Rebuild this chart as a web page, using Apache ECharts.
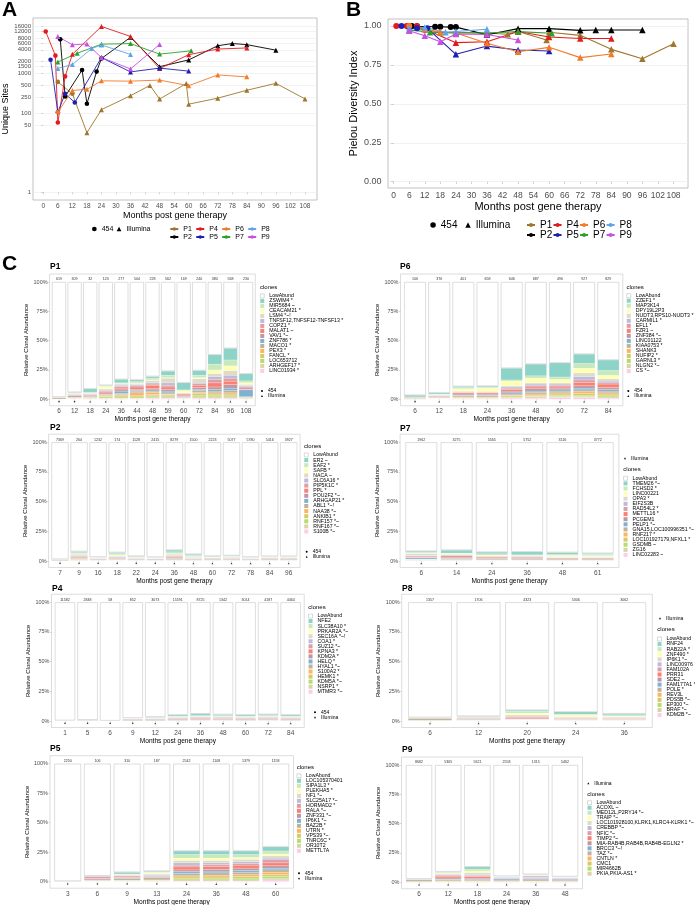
<!DOCTYPE html>
<html><head><meta charset="utf-8">
<script src="https://cdn.jsdelivr.net/npm/echarts@6/dist/echarts.min.js"></script>
<style>html,body{margin:0;padding:0;background:#fff}#c{width:695px;height:905px}</style>
</head><body><div id="c"></div>
<script>
// ---------------- DATA ----------------
const p1Months=[6,12,18,24,36,44,48,59,60,72,84,96,108];
const p1Sites=[619,309,32,123,277,504,228,562,169,240,380,568,230];
const p1Pielou=[0.99,0.975,0.96,0.96,0.955,0.947,0.965,0.91,0.96,0.94,0.85,0.79,0.886];
const p1Platform=['454','454','Illumina','Illumina','Illumina','Illumina','Illumina','Illumina','Illumina','Illumina','Illumina','Illumina','Illumina'];
const p2Months=[7,9,16,18,22,24,36,48,60,72,78,84,96];
const p2Sites=[7369,264,1232,174,1128,2415,8279,1500,2223,5077,5780,5416,3927];
const p2Pielou=[1.0,0.998,0.995,0.995,0.993,0.993,0.944,0.983,0.983,0.972,0.974,0.974,0.974];
const p2Platform=['454','454','454','454','454','454','Illumina','Illumina','Illumina','Illumina','Illumina','Illumina','Illumina'];
const p4Months=[1,5,6,9,12,24,36,48,60,72,84];
const p4Sites=[11582,2848,58,852,3073,15591,8725,1342,3014,4187,4464];
const p4Pielou=[1.0,1.0,1.0,1.0,0.98,0.893,0.899,0.965,0.929,0.92,0.92];
const p4Platform=['454','454','454','454','Illumina','Illumina','Illumina','Illumina','Illumina','Illumina','Illumina'];
const p5Months=[3,6,9,13,24,36,48,60];
const p5Sites=[2250,106,310,187,2542,1108,1379,1158];
const p5Pielou=[1.0,0.99,0.985,0.985,0.818,0.871,0.846,0.839];
const p5Platform=['454','454','454','454','Illumina','Illumina','Illumina','Illumina'];
const p6Months=[6,12,18,24,36,48,60,72,84];
const p6Sites=[106,376,401,658,646,687,496,927,829];
const p6Pielou=[1.0,0.98,0.96,0.955,0.889,0.835,0.863,0.797,0.82];
const p6Platform=['454','Illumina','Illumina','Illumina','Illumina','Illumina','Illumina','Illumina','Illumina'];
const p7Months=[6,14,24,36,48,61];
const p7Sites=[1962,3275,5565,5752,3116,3772];
const p7Pielou=[0.975,0.96,0.955,0.955,0.964,0.953];
const p7Platform=['Illumina','Illumina','Illumina','Illumina','Illumina','Illumina'];
const p8Months=[6,12,20,24,36];
const p8Sites=[1357,1706,4323,5306,3062];
const p8Pielou=[0.985,0.99,0.96,0.965,0.979];
const p8Platform=['Illumina','Illumina','Illumina','Illumina','Illumina'];
const p9Months=[6,12,18,24,36,48];
const p9Sites=[8682,5365,5621,2558,1315,5462];
const p9Pielou=[0.97,0.938,0.899,0.949,0.945,0.91];
const p9Platform=['Illumina','Illumina','Illumina','Illumina','Illumina','Illumina'];

// clones (top of stack first) and relative abundance (%) per clone per time point
const p1Clones=['ZSWIM4 *','MIR5684 ~','CEACAM21 *','LSM4 *~!','TNFSF12,TNFSF12-TNFSF13 *','COPZ1 *','MALAT1 ~','VAV1 *~','ZNF786 *','MACO1 *','PEX3 *','FANCL *','LOC653712','ARHGEF17 *','LINC01934 *'];
const p1Abund=[
 [0,0.5,3,0.5,3,1.5,1.5,3.5,6,4,8,10,6],
 [0,0.5,0.5,0.5,0.5,1,1.5,2,0.5,2,5,5,1.5],
 [0,0.3,0.3,2,0.5,0.5,0.5,0.5,2,1,3,4,1.5],
 [0,0.5,0.5,1,1,1,2,4,0.5,3,2.5,4,1],
 [0,0.3,0.3,0.5,1,1,1,2,0.5,1,2.5,2.5,1],
 [0,0.5,0.5,1,1.5,1,1,1.5,1,1.5,3,2.5,1],
 [0,0.5,0.5,1,1.5,2,3,2,1,2,3.5,3,1],
 [0.5,1,1,1,1,1,1,1.5,0.5,1.5,2,3,0.5],
 [0.3,0.3,0.3,0.5,2,1,1,1.5,0.5,1,1.5,2,6],
 [1,0.5,0.5,0.5,1,1,1,1,0.3,1.5,1.5,2,0.5],
 [0,0.3,0.3,1,1,2.5,2,0.5,0.2,1,1,1,0.3],
 [0,0.3,0.3,0.5,1,1,1,1,0.2,1.5,1,1.5,0.5],
 [0,0.2,0.3,1,1,1,1,1,0.3,1.5,1.5,1,0.3],
 [0,0.2,0.3,0.5,0.5,0.5,1,1,0.3,1,1,1,0.3],
 [0.2,0.1,0.3,0.5,0.5,0.5,1,1,0.2,1,1,1,0.3]];
const p6Clones=['ZZEF1 *','MAP3K14','DPY19L2P3','NUDT3,RPS10-NUDT3 *','CARMIL1 *','EFL1 *','FZR1 ~','ZNF384 *~','LINC01122','KIAA0753 *','SHANK3','NUFIP2 *','GARNL3 *','NLGN2 *~','CS *~'];
const p6Abund=[
 [1.5,1,1,1,10,10,12,8,9],
 [0,0.5,1,0.5,1,2,2,4,4],
 [0,0.3,2,3,4,4,3,4,3],
 [0,0.3,0.5,0.5,1,1,1,3,2],
 [0,0.3,0.5,0.3,1,1.5,1,3,1.5],
 [0,0.3,0.5,0.5,1,1,1.5,2,1],
 [0.5,0.5,1,1,1.5,1.5,1,3,3],
 [0.5,0.5,1,1,1.5,2,1.5,2,1.5],
 [0,0.3,0.5,0.5,1,1,1,1.5,1.5],
 [0.5,0.5,1,1,1,1.5,1.5,1.5,1.5],
 [0,0.2,0.5,0.5,0.5,1,1,1.5,1],
 [0,0.2,0.5,0.5,1,1,1,1.5,1.5],
 [0,0.2,0.3,0.3,0.5,0.5,1,1,1],
 [0.5,0.2,0.3,0.3,0.5,1,1,1,1],
 [0,0.2,0.4,0.3,1,1,1.5,1.5,1]];
const p2Clones=['ER2 ~','EAF2 *','SAFB *','NACA ~','SLC6A16 *','PIP5K1C *','PPL *','POU2F2 *~','ARHGAP21 *','ABL1 *~!','NAA38 *~','ANKIB1 *','RNF157 *~','RNF167 *~','S100B *~'];
const p2Abund=[
 [0,1,0.3,1,0.5,0.3,1.5,1,0.5,0.5,0.3,0.3,0.3],
 [0,0.8,0.2,1,0.5,0.2,1.5,1,0.3,0.5,0.3,0.3,0.3],
 [0,0.5,0.1,1,0.2,0.1,0.5,0.5,0.2,0.3,0.2,0.2,0.2],
 [0.2,1,0.3,0.5,0.3,0.3,1,0.5,0.3,0.5,0.3,0.4,0.4],
 [0,0.5,0.2,0.5,0.2,0.2,0.5,0.3,0.2,0.3,0.2,0.2,0.2],
 [0,0.5,0.2,0.5,0.3,0.2,0.5,0.3,0.3,0.3,0.2,0.3,0.3],
 [0,0.6,0.2,0.3,0.2,0.2,0.6,0.3,0.2,0.2,0.1,0.2,0.2],
 [0.3,0.6,0.5,0.5,0.5,0.5,0.8,0.5,0.5,0.5,0.4,0.5,0.5],
 [0,0.3,0.1,0.3,0.1,0.1,0.3,0.2,0.1,0.1,0.1,0.1,0.1],
 [0.6,0.6,0.6,0.5,0.6,0.6,0.8,0.5,0.8,0.7,0.6,0.8,0.8],
 [0,0.5,0.1,0.3,0.1,0.1,0.3,0.1,0.1,0.1,0.1,0.1,0.1],
 [0,0.3,0.1,0.2,0.1,0.1,0.2,0.1,0.1,0.1,0.1,0.1,0.1],
 [0,0.3,0.1,0.2,0.1,0.1,0.2,0.1,0.1,0.1,0.1,0.1,0.1],
 [0.3,0.3,0.3,0.2,0.3,0.2,0.3,0.2,0.3,0.3,0.3,0.3,0.3],
 [0.1,0.2,0.1,0.2,0.1,0.1,0.2,0.1,0.1,0.1,0.1,0.1,0.1]];
const p7Clones=['TMEM26 *~','FCHSD2 *','LINC00221','OPA3 *','EIF2S3B','RAD54L2 *','METTL16 *','PCGEM1','PELP1 *~','GNA15,LOC100996351 *~','RNF217 *','LOC101927179,NFXL1 *','GSDMB ~','ZG16','LINC02283 ~'];
const p7Abund=[
 [1,2.5,1.5,2.5,1.5,1],
 [0.5,0.5,1,0.5,1,1],
 [0.5,0.5,0.5,0.3,1,0.8],
 [1.5,0.5,0.5,0.5,0.5,0.5],
 [0.3,0.5,0.3,0.3,0.3,0.3],
 [0.8,0.5,0.5,0.5,0.3,0.3],
 [0.5,1,0.8,0.7,0.3,0.3],
 [0.5,0.8,0.6,0.6,0.5,0.5],
 [1,0.3,0.2,0.2,0.2,0.2],
 [0.5,1,0.8,0.8,0.8,0.8],
 [0.2,0.2,0.1,0.1,0.1,0.1],
 [0.2,0.2,0.1,0.1,0.1,0.1],
 [0.2,0.2,0.1,0.1,0.1,0.1],
 [0.3,0.3,0.3,0.3,0.3,0.3],
 [0.2,0.2,0.2,0.2,0.2,0.2]];
const p4Clones=['NFE2','SLC38A10 *','PRKAR2A *~','SEC16A *~!','COA1 *','SUZ12 *~','KPNA3 *','KDM2A *','HELQ *','HYAL1 *~','S100A2 *','HEMK1 *','KDM5A *~','NSRP1 *','MTMR3 *~'];
const p4Abund=[
 [0,0,0,0.2,0.5,1,1.5,1,1,1,1],
 [0,0,0,0.1,0.3,0.5,0.5,0.5,0.5,0.5,0.5],
 [0,0,0,0.1,0.1,0.2,0.2,0.2,0.2,0.3,0.2],
 [0,0.1,0,0.2,0.3,0.5,0.5,0.5,0.5,0.5,0.5],
 [0,0,0,0.1,0.2,0.3,0.3,0.3,0.3,0.3,0.3],
 [0,0,0,0.2,0.3,0.5,0.6,0.6,0.5,0.6,0.5],
 [0,0,0,0.1,0.2,0.3,0.5,0.4,0.3,0.4,0.3],
 [0.2,0.4,0.1,0.6,0.6,0.6,0.7,0.7,0.6,0.7,0.6],
 [0,0,0,0.1,0.1,0.1,0.1,0.1,0.1,0.1,0.1],
 [0.2,0.4,0.1,0.6,0.6,0.6,0.6,0.6,0.6,0.6,0.6],
 [0,0,0,0,0.1,0.1,0.1,0.1,0.1,0.1,0.1],
 [0,0,0,0,0.05,0.1,0.1,0.1,0.1,0.1,0.1],
 [0,0,0,0,0.05,0.1,0.1,0.1,0.1,0.1,0.1],
 [0.1,0.1,0.1,0.3,0.1,0.1,0.2,0.2,0.1,0.2,0.1],
 [0,0,0,0,0,0.1,0.1,0.1,0.1,0.1,0.1]];
const p8Clones=['RNF24','RAB22A *','ZNF490 *','IP6K1 *~','LINC00976','FAM102A','PRR31','SDE2 ~','FAM177A1 *','POLE *','REV3L','PDS5B *~','EP300 *~','BRAF *~','KDM2B *~'];
const p8Abund=[
 [0,0.3,1,2,1],
 [0,0.3,1.5,0.5,1],
 [0,0.2,1.5,1.5,0.5],
 [0.3,1,1,0.5,0.5],
 [0,0.2,0.5,0.3,0.3],
 [0,0.2,0.5,0.3,0.3],
 [0,0.2,1,0.5,0.5],
 [0.5,0.3,0.5,0.5,0.5],
 [0,0.1,0.2,0.2,0.2],
 [1.5,0.5,0.5,0.5,0.5],
 [0,0.1,0.2,0.1,0.1],
 [0,0.1,0.2,0.1,0.1],
 [0,0.1,0.1,0.1,0.1],
 [0.7,0.4,0.3,0.4,0.4],
 [0,0.1,0.1,0.1,0.1]];
const p5Clones=['LOC105370401','SIPA1L3 *','PLEKHA5 *','NF1 *~','SLC25A17 *~','HORMAD2 *','RALA *~','ZNF331 *~','IP6K1 *~','BAZ2B *','UTRN *','VPS39 *~','TNRC6C *','OR10T2','METTL7A'];
const p5Abund=[
 [0,0,1.5,0.7,3,3,3,3.5],
 [0,0,0.5,0.5,3,3,2.5,2.5],
 [0,0,0.3,1,2,2,1.5,1.5],
 [0,0,0.3,0.8,2,2,2,2],
 [0,0.5,0.2,0.5,2,1.5,1.5,1.5],
 [0,1.5,0.5,0.5,1.5,1.5,1.5,2.5],
 [0,0.5,1,0.5,2.5,2.5,2.5,2.5],
 [0,1,0.5,0.5,1.5,1.5,2,2],
 [0,0.2,0.5,0.5,1.5,1.5,1.5,1.5],
 [0.5,0.5,1.5,2,2,2,2,2],
 [0,0.2,0.2,0.3,1,1.5,1.5,2],
 [0,0.2,0.2,0.3,1.5,1.5,1.5,1.5],
 [0,0.2,0.3,0.3,1,1,1.5,1.5],
 [0,0.2,0.3,0.3,1,1,1,1.5],
 [0,0,0.2,0.3,0.5,0.5,0.5,1.5]];
const p9Clones=['ACOXL ~','MED12L,P2RY14 *~','TRAIP *~','LOC101928100,KLRK1,KLRC4-KLRK1 *~','CREBBP *~','NFIC *~','TIMP2 *~','MIA-RAB4B,RAB4B,RAB4B-EGLN2 *','BRCC3 *~!','TAZ *~','CNTLN *','CMC1','MIR4662B','PKIA,PKIA-AS1 *'];
const p9Abund=[
 [0,0.5,2,0.2,0.3,0.2],
 [0,0.5,1.5,0.2,0.3,0.2],
 [0,0.5,1.5,0.2,0.3,0.2],
 [0.3,1,1.5,0.3,0.5,0.3],
 [0,0.5,1,0.5,1,0.3],
 [0,0.8,0.8,0.3,0.5,0.3],
 [0,1.5,1.5,0.3,0.5,0.3],
 [0.5,1,1,0.5,0.5,0.5],
 [0,0.5,0.5,1,0.8,0.8],
 [1.5,1,0.8,1,1,1],
 [0,0.3,0.3,0.2,0.3,0.2],
 [0,0.3,0.3,0.2,0.3,0.2],
 [0,0.3,0.2,0.1,0.2,0.1],
 [0.7,0.3,0.3,0.3,0.3,0.3]];

const siteTicks=[1,50,100,250,500,1000,1500,2000,4000,6000,8000,12000,16000];
const pielouTicks=[0,0.25,0.5,0.75,1];
const abundTicks=[0,25,50,75,100];

// ---------------- STYLE / LAYOUT ----------------
const pal=['#8DD3C7','#C6E9BD','#FFFFB3','#DEDCC6','#BEBADA','#DC9DA6','#FB8072','#BD98A2','#80B1D3','#BEB29A','#FDB462','#D8C965','#B3DE69','#D7D5A7','#FCCDE5'];
const patColor={P1:'#A0762E',P2:'#000000',P4:'#E41A1C',P5:'#1F1FB4',P6:'#F27B2A',P7:'#2CA02C',P8:'#5DA5E8',P9:'#C84FE6'};
const gray30='#4d4d4d';
const pats=[
 {id:'P1',m:p1Months,s:p1Sites,pi:p1Pielou,pl:p1Platform,cl:p1Clones,ab:p1Abund},
 {id:'P2',m:p2Months,s:p2Sites,pi:p2Pielou,pl:p2Platform,cl:p2Clones,ab:p2Abund},
 {id:'P4',m:p4Months,s:p4Sites,pi:p4Pielou,pl:p4Platform,cl:p4Clones,ab:p4Abund},
 {id:'P5',m:p5Months,s:p5Sites,pi:p5Pielou,pl:p5Platform,cl:p5Clones,ab:p5Abund},
 {id:'P6',m:p6Months,s:p6Sites,pi:p6Pielou,pl:p6Platform,cl:p6Clones,ab:p6Abund},
 {id:'P7',m:p7Months,s:p7Sites,pi:p7Pielou,pl:p7Platform,cl:p7Clones,ab:p7Abund},
 {id:'P8',m:p8Months,s:p8Sites,pi:p8Pielou,pl:p8Platform,cl:p8Clones,ab:p8Abund},
 {id:'P9',m:p9Months,s:p9Sites,pi:p9Pielou,pl:p9Platform,cl:p9Clones,ab:p9Abund}];
const cLayout={
 P1:{fl:49.6,fr:255.3,first:59,last:246,y0:399.3,y100:282,tx:50,ty:266.5,lx:260,ly:295.9,pitch:4.9,cy:287.4,px:261,py:391},
 P6:{fl:400.5,fr:622.8,first:415,last:608.3,y0:399.3,y100:282,tx:400,ty:266.7,lx:626.5,ly:295.7,pitch:5.02,cy:287.2,px:627.3,py:391},
 P2:{fl:48.6,fr:300.1,first:60,last:288.7,y0:561,y100:442.3,tx:50,ty:428,lx:304,ly:455,pitch:5.1,cy:447,px:305.7,py:551.7},
 P7:{fl:400.1,fr:618.9,first:421.3,last:597.7,y0:561,y100:442.3,tx:400,ty:428.3,lx:623.3,ly:478.3,pitch:5.11,cy:469.3,px:624,py:458.3},
 P4:{fl:51.5,fr:304.2,first:65,last:290.7,y0:721,y100:602.3,tx:52,ty:588.3,lx:308.3,ly:616,pitch:5.05,cy:607.7,px:314,py:712.3},
 P8:{fl:401.7,fr:652.3,first:430,last:624.3,y0:721,y100:602.3,tx:402,ty:588.3,lx:657.3,ly:639,pitch:5.07,cy:630,px:659,py:618.3},
 P5:{fl:50,fr:293.5,first:67.7,last:275.7,y0:881.7,y100:763.7,tx:50,ty:748.3,lx:296.7,ly:775.7,pitch:4.73,cy:767.3,px:298,py:873.3},
 P9:{fl:401.5,fr:582.5,first:419,last:565,y0:882.3,y100:765,tx:402,ty:750,lx:587.3,ly:802.7,pitch:5.07,cy:794.3,px:587.3,py:783.3}};
const Y_MIN=-5.5, Y_MAX=106.8;

const grids=[],xAxes=[],yAxes=[],series=[],titles=[],legends=[];
const monthTicks=[];for(let t=0;t<=108;t+=6)monthTicks.push(t);
const tickStyle={color:'#b3b3b3',width:0.6};

// ---------- Panel A ----------
grids.push({left:33,top:18,width:284,height:182,show:true,borderColor:'#b3b3b3',borderWidth:0.8,backgroundColor:'#fff',containLabel:false,outerBoundsMode:'none'});
xAxes.push({type:'value',gridIndex:0,min:-4.25,max:112.96,axisLine:{show:false},
 axisTick:{show:true,customValues:monthTicks,length:2,lineStyle:tickStyle},
 axisLabel:{customValues:monthTicks,fontSize:6.5,color:gray30,margin:2.7,showMaxLabel:true,showMinLabel:true,fontFamily:'Liberation Sans'},
 splitLine:{show:false},name:'Months post gene therapy',nameLocation:'middle',nameGap:9,
 nameTextStyle:{fontSize:9,color:'#000',fontFamily:'Liberation Sans'}});
const sitePos=siteTicks.map(v=>Math.log10(v));
const siteFmt=v=>String(Math.round(Math.pow(10,v)));
// main y axis (all ticks, labels except the topmost one)
yAxes.push({type:'value',gridIndex:0,position:'left',min:-0.195,max:4.407,axisLine:{show:false},
 axisTick:{show:true,customValues:sitePos,length:2,lineStyle:tickStyle},
 axisLabel:{customValues:sitePos.slice(0,-1),formatter:siteFmt,fontSize:6,color:gray30,margin:2,hideOverlap:false,showMaxLabel:true,showMinLabel:true,fontFamily:'Liberation Sans'},
 splitLine:{show:true,lineStyle:{color:'#ebebeb',width:0.6}},
 name:'Unique Sites',nameLocation:'middle',nameGap:22,nameTextStyle:{fontSize:9,color:'#000',fontFamily:'Liberation Sans'}});
// companion axis carrying only the topmost label (avoids automatic neighbour hiding)
yAxes.push({type:'value',gridIndex:0,position:'left',offset:0,min:-0.195,max:4.407,axisLine:{show:false},
 axisTick:{show:false},splitLine:{show:false},
 axisLabel:{customValues:sitePos.slice(-1),formatter:siteFmt,fontSize:6,color:gray30,margin:2,showMaxLabel:true,showMinLabel:true,fontFamily:'Liberation Sans'}});

// ---------- Panel B ----------
grids.push({left:388,top:19,width:300,height:169,show:true,borderColor:'#b3b3b3',borderWidth:0.8,backgroundColor:'#fff',containLabel:false,outerBoundsMode:'none'});
xAxes.push({type:'value',gridIndex:1,min:-2.2,max:113.6,axisLine:{show:false},
 axisTick:{show:true,customValues:monthTicks,length:2.5,lineStyle:tickStyle},
 axisLabel:{customValues:monthTicks,fontSize:8.5,color:gray30,margin:3.5,showMaxLabel:true,showMinLabel:true,fontFamily:'Liberation Sans'},
 splitLine:{show:false},name:'Months post gene therapy',nameLocation:'middle',nameGap:13,
 nameTextStyle:{fontSize:11,color:'#000',fontFamily:'Liberation Sans'}});
yAxes.push({type:'value',gridIndex:1,min:-0.0405,max:1.045,axisLine:{show:false},
 axisTick:{show:true,customValues:pielouTicks,length:2.5,lineStyle:tickStyle},
 axisLabel:{customValues:pielouTicks,formatter:v=>v.toFixed(2),fontSize:9,color:gray30,margin:6.5,showMaxLabel:true,showMinLabel:true,fontFamily:'Liberation Sans'},
 splitLine:{show:true,lineStyle:{color:'#ebebeb',width:0.7}},
 name:'Pielou Diversity Index',nameLocation:'middle',nameGap:29,nameTextStyle:{fontSize:11,color:'#000',fontFamily:'Liberation Sans'}});
const yIdxA=0, yIdxB=2;

// lines + points for A and B
[[0,yIdxA],[1,yIdxB]].forEach(([ax,yax])=>{
 const d454=[],dIll=[];
 pats.forEach(p=>{
  const col=patColor[p.id];
  const vals=p.m.map((t,i)=>[t, ax===0?Math.log10(p.s[i]):p.pi[i]]);
  series.push({type:'line',name:p.id,xAxisIndex:ax,yAxisIndex:yax,data:vals,showSymbol:false,symbol:'circle',symbolSize:ax===0?4:5,
   lineStyle:{color:col,width:ax===0?0.9:1.1},itemStyle:{color:col},silent:true,z:2});
  vals.forEach((v,i)=>{(p.pl[i]==='454'?d454:dIll).push({value:v,itemStyle:{color:col}});});
 });
 series.push({type:'scatter',name:'454',xAxisIndex:ax,yAxisIndex:yax,data:d454,symbol:'circle',symbolSize:ax===0?4.6:6,itemStyle:{color:'#000',opacity:1},silent:true,z:3});
 series.push({type:'scatter',name:'Illumina',xAxisIndex:ax,yAxisIndex:yax,data:dIll,symbol:'triangle',symbolSize:ax===0?5:6.5,itemStyle:{color:'#000',opacity:1},silent:true,z:3});
});

// legends A/B
const shapeData=[{name:'454',icon:'circle',itemStyle:{color:'#000'}},{name:'Illumina',icon:'triangle',itemStyle:{color:'#000'}}];
legends.push({left:92,top:225.5,orient:'horizontal',padding:0,itemGap:3.3,itemWidth:4.7,itemHeight:4.7,selectedMode:false,textStyle:{fontSize:7,color:'#000',fontFamily:'Liberation Sans'},data:shapeData});
legends.push({left:169.3,top:225.5,orient:'horizontal',padding:0,itemGap:3.4,itemWidth:8,itemHeight:4.5,selectedMode:false,textStyle:{fontSize:7,color:'#000',fontFamily:'Liberation Sans'},data:['P1','P4','P6','P8']});
legends.push({left:169.3,top:233.5,orient:'horizontal',padding:0,itemGap:3.4,itemWidth:8,itemHeight:4.5,selectedMode:false,textStyle:{fontSize:7,color:'#000',fontFamily:'Liberation Sans'},data:['P2','P5','P7','P9']});
legends.push({left:430.3,top:220,orient:'horizontal',padding:0,itemGap:7.8,itemWidth:5.5,itemHeight:5.5,selectedMode:false,textStyle:{fontSize:10,color:'#000',fontFamily:'Liberation Sans'},data:shapeData});
legends.push({left:526,top:220,orient:'horizontal',padding:0,itemGap:0.3,itemWidth:8,itemHeight:5,selectedMode:false,textStyle:{fontSize:10,color:'#000',fontFamily:'Liberation Sans'},data:['P1','P4','P6','P8']});
legends.push({left:526,top:230,orient:'horizontal',padding:0,itemGap:0.3,itemWidth:8,itemHeight:5,selectedMode:false,textStyle:{fontSize:10,color:'#000',fontFamily:'Liberation Sans'},data:['P2','P5','P7','P9']});

// panel letters
[['A',2,0],['B',346,0],['C',2,254]].forEach(([t,l,tp])=>titles.push({text:t,left:l,top:tp,padding:0,textStyle:{fontSize:21,fontWeight:'bold',color:'#000',fontFamily:'Liberation Sans'}}));

// ---------- Panel C ----------
pats.forEach(p=>{
 const L=cLayout[p.id];
 const n=p.m.length;
 const s=(L.last-L.first)/(n-1);
 const k=(L.y0-L.y100)/100;
 const top=L.y100-(Y_MAX-100)*k;
 const height=(Y_MAX-Y_MIN)*k;
 grids.push({left:L.fl,top:top,width:L.fr-L.fl,height:height,show:true,borderColor:'#cfcfcf',borderWidth:0.7,backgroundColor:'rgba(0,0,0,0)',containLabel:false,outerBoundsMode:'none'});
 const plotLeft=L.first-s/2;
 grids.push({left:plotLeft,top:top,width:n*s,height:height,show:false,containLabel:false,outerBoundsMode:'none'});
 const gi=grids.length-1;
 const cats=p.m.map(String);
 xAxes.push({type:'category',gridIndex:gi,data:cats,boundaryGap:true,axisLine:{show:false},
  axisTick:{show:true,alignWithLabel:true,length:1.5,lineStyle:{color:'#b3b3b3',width:0.5}},
  axisLabel:{interval:0,fontSize:6.5,color:gray30,margin:2.2,fontFamily:'Liberation Sans'},
  name:'Months post gene therapy',nameLocation:'middle',nameGap:8.7,nameTextStyle:{fontSize:6.6,color:'#000',fontFamily:'Liberation Sans'}});
 yAxes.push({type:'value',gridIndex:gi,min:Y_MIN,max:Y_MAX,offset:plotLeft-L.fl,axisLine:{show:false},
  axisTick:{show:true,customValues:abundTicks,length:1.5,lineStyle:{color:'#b3b3b3',width:0.5}},
  axisLabel:{customValues:abundTicks,formatter:v=>v+'%',fontSize:5.5,color:gray30,margin:2,showMaxLabel:true,showMinLabel:true,fontFamily:'Liberation Sans'},
  splitLine:{show:false},
  name:'Relative Clonal Abundance',nameLocation:'middle',nameGap:15.5,nameTextStyle:{fontSize:6,color:'#000',fontFamily:'Liberation Sans'}});
 const xi=xAxes.length-1, yi=yAxes.length-1;
 for(let c=p.cl.length-1;c>=0;c--){
  series.push({type:'bar',name:p.cl[c],xAxisIndex:xi,yAxisIndex:yi,stack:'st'+p.id,data:p.ab[c],barCategoryGap:'10%',
   itemStyle:{color:pal[c],borderColor:'rgba(255,255,255,0.6)',borderWidth:0.2},silent:true});
 }
 const low=cats.map((_,i)=>+(100-p.ab.reduce((a,r)=>a+r[i],0)).toFixed(2));
 series.push({type:'bar',name:'LowAbund',xAxisIndex:xi,yAxisIndex:yi,stack:'st'+p.id,data:low,barCategoryGap:'10%',
  itemStyle:{color:'#ffffff',borderColor:'#c8c8c8',borderWidth:0.6},silent:true,
  label:{show:true,position:'top',distance:0.6,fontSize:3.6,color:'#333',fontFamily:'Liberation Sans',formatter:q=>String(p.s[q.dataIndex])}});
 const d454=[],dIll=[];
 p.pl.forEach((pl,i)=>{(pl==='454'?d454:dIll).push([cats[i],-2]);});
 if(d454.length)series.push({type:'scatter',name:'454',xAxisIndex:xi,yAxisIndex:yi,data:d454,symbol:'circle',symbolSize:1.6,itemStyle:{color:'#000'},silent:true,z:4});
 series.push({type:'scatter',name:'Illumina',xAxisIndex:xi,yAxisIndex:yi,data:dIll,symbol:'triangle',symbolSize:1.9,itemStyle:{color:'#000'},silent:true,z:4});
 // titles
 titles.push({text:p.id,left:L.tx,top:L.ty-4.5,padding:0,textStyle:{fontSize:8.5,fontWeight:'bold',color:'#000',fontFamily:'Liberation Sans'}});
 titles.push({text:'clones',left:L.lx,top:L.cy-3.3,padding:0,textStyle:{fontSize:6,fontWeight:'normal',color:'#000',fontFamily:'Liberation Sans'}});
 // clone legend
 const ld=[{name:'LowAbund',icon:'rect',itemStyle:{color:'#fff',borderColor:'#b5b5b5',borderWidth:0.5}}]
  .concat(p.cl.map((c,i)=>({name:c,icon:'rect',itemStyle:{color:pal[i],borderWidth:0}})));
 legends.push({orient:'vertical',left:L.lx,top:L.ly-L.pitch/2,padding:0,itemGap:0,itemWidth:4,itemHeight:4,selectedMode:false,
  textStyle:{fontSize:5.2,lineHeight:L.pitch,color:'#000',fontFamily:'Liberation Sans'},data:ld});
 const pd=(d454.length?[{name:'454',icon:'circle',itemStyle:{color:'#000'}}]:[]).concat([{name:'Illumina',icon:'triangle',itemStyle:{color:'#000'}}]);
 legends.push({orient:'vertical',left:L.px,top:L.py-2.5,padding:0,itemGap:0,itemWidth:2,itemHeight:2,selectedMode:false,
  textStyle:{fontSize:5,lineHeight:5,color:'#000',fontFamily:'Liberation Sans'},data:pd});
});

const chart=echarts.init(document.getElementById('c'),null,{renderer:'canvas',width:695,height:905});
chart.setOption({animation:false,backgroundColor:'#fff',textStyle:{fontFamily:'Liberation Sans'},
 title:titles,legend:legends,grid:grids,xAxis:xAxes,yAxis:yAxes,series:series,tooltip:{show:false}});
</script></body></html>
